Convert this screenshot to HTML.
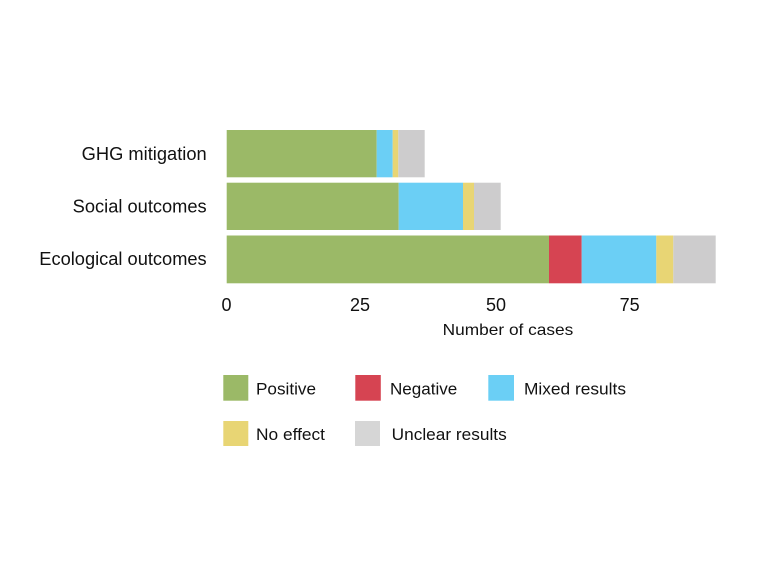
<!DOCTYPE html>
<html>
<head>
<meta charset="utf-8">
<style>
html,body{margin:0;padding:0;background:#fff;}
svg{display:block;}
text{font-family:"Liberation Sans",Arial,sans-serif;fill:#111;}
</style>
</head>
<body>
<svg width="768" height="576" viewBox="0 0 768 576" xmlns="http://www.w3.org/2000/svg">
<rect width="768" height="576" fill="#fff"/>
<!-- Bar 1: GHG mitigation -->
<rect x="226.7" y="130" width="150" height="47.3" fill="#9bb967"/>
<rect x="376.7" y="130" width="16" height="47.3" fill="#6bcff5"/>
<rect x="392.7" y="130" width="5.6" height="47.3" fill="#e8d574"/>
<rect x="398.3" y="130" width="26.4" height="47.3" fill="#cdcccd"/>
<!-- Bar 2: Social outcomes -->
<rect x="226.7" y="182.7" width="172" height="47.3" fill="#9bb967"/>
<rect x="398.7" y="182.7" width="64.3" height="47.3" fill="#6bcff5"/>
<rect x="463" y="182.7" width="11" height="47.3" fill="#e8d574"/>
<rect x="474" y="182.7" width="26.7" height="47.3" fill="#cdcccd"/>
<!-- Bar 3: Ecological outcomes -->
<rect x="226.7" y="235.5" width="322.3" height="47.8" fill="#9bb967"/>
<rect x="549" y="235.5" width="32.7" height="47.8" fill="#d64452"/>
<rect x="581.7" y="235.5" width="74.6" height="47.8" fill="#6bcff5"/>
<rect x="656.3" y="235.5" width="17" height="47.8" fill="#e8d574"/>
<rect x="673.3" y="235.5" width="42.4" height="47.8" fill="#cdcccd"/>

<!-- Category labels -->
<text x="81.7" y="160" font-size="18" textLength="125" lengthAdjust="spacingAndGlyphs">GHG mitigation</text>
<text x="72.7" y="212.5" font-size="18" textLength="134" lengthAdjust="spacingAndGlyphs">Social outcomes</text>
<text x="39.3" y="265" font-size="18" textLength="167.4" lengthAdjust="spacingAndGlyphs">Ecological outcomes</text>

<!-- Tick labels -->
<text x="226.5" y="311" font-size="18" text-anchor="middle">0</text>
<text x="360" y="311" font-size="18" text-anchor="middle">25</text>
<text x="496" y="311" font-size="18" text-anchor="middle">50</text>
<text x="629.7" y="311" font-size="18" text-anchor="middle">75</text>
<text x="442.7" y="335" font-size="16" textLength="130.6" lengthAdjust="spacingAndGlyphs">Number of cases</text>

<!-- Legend -->
<rect x="223.3" y="375" width="25" height="25.7" fill="#9bb967"/>
<text x="256" y="394.3" font-size="17" textLength="60" lengthAdjust="spacingAndGlyphs">Positive</text>
<rect x="355.3" y="375" width="25.5" height="25.7" fill="#d64452"/>
<text x="390" y="394.3" font-size="17" textLength="67.3" lengthAdjust="spacingAndGlyphs">Negative</text>
<rect x="488.3" y="375" width="25.7" height="25.7" fill="#6bcff5"/>
<text x="524" y="394.3" font-size="17" textLength="102" lengthAdjust="spacingAndGlyphs">Mixed results</text>
<rect x="223.3" y="421" width="25" height="25" fill="#e8d574"/>
<text x="256" y="440" font-size="17" textLength="69" lengthAdjust="spacingAndGlyphs">No effect</text>
<rect x="355" y="421" width="25" height="25" fill="#d6d6d6"/>
<text x="391.7" y="440" font-size="17" textLength="115" lengthAdjust="spacingAndGlyphs">Unclear results</text>
</svg>
</body>
</html>
